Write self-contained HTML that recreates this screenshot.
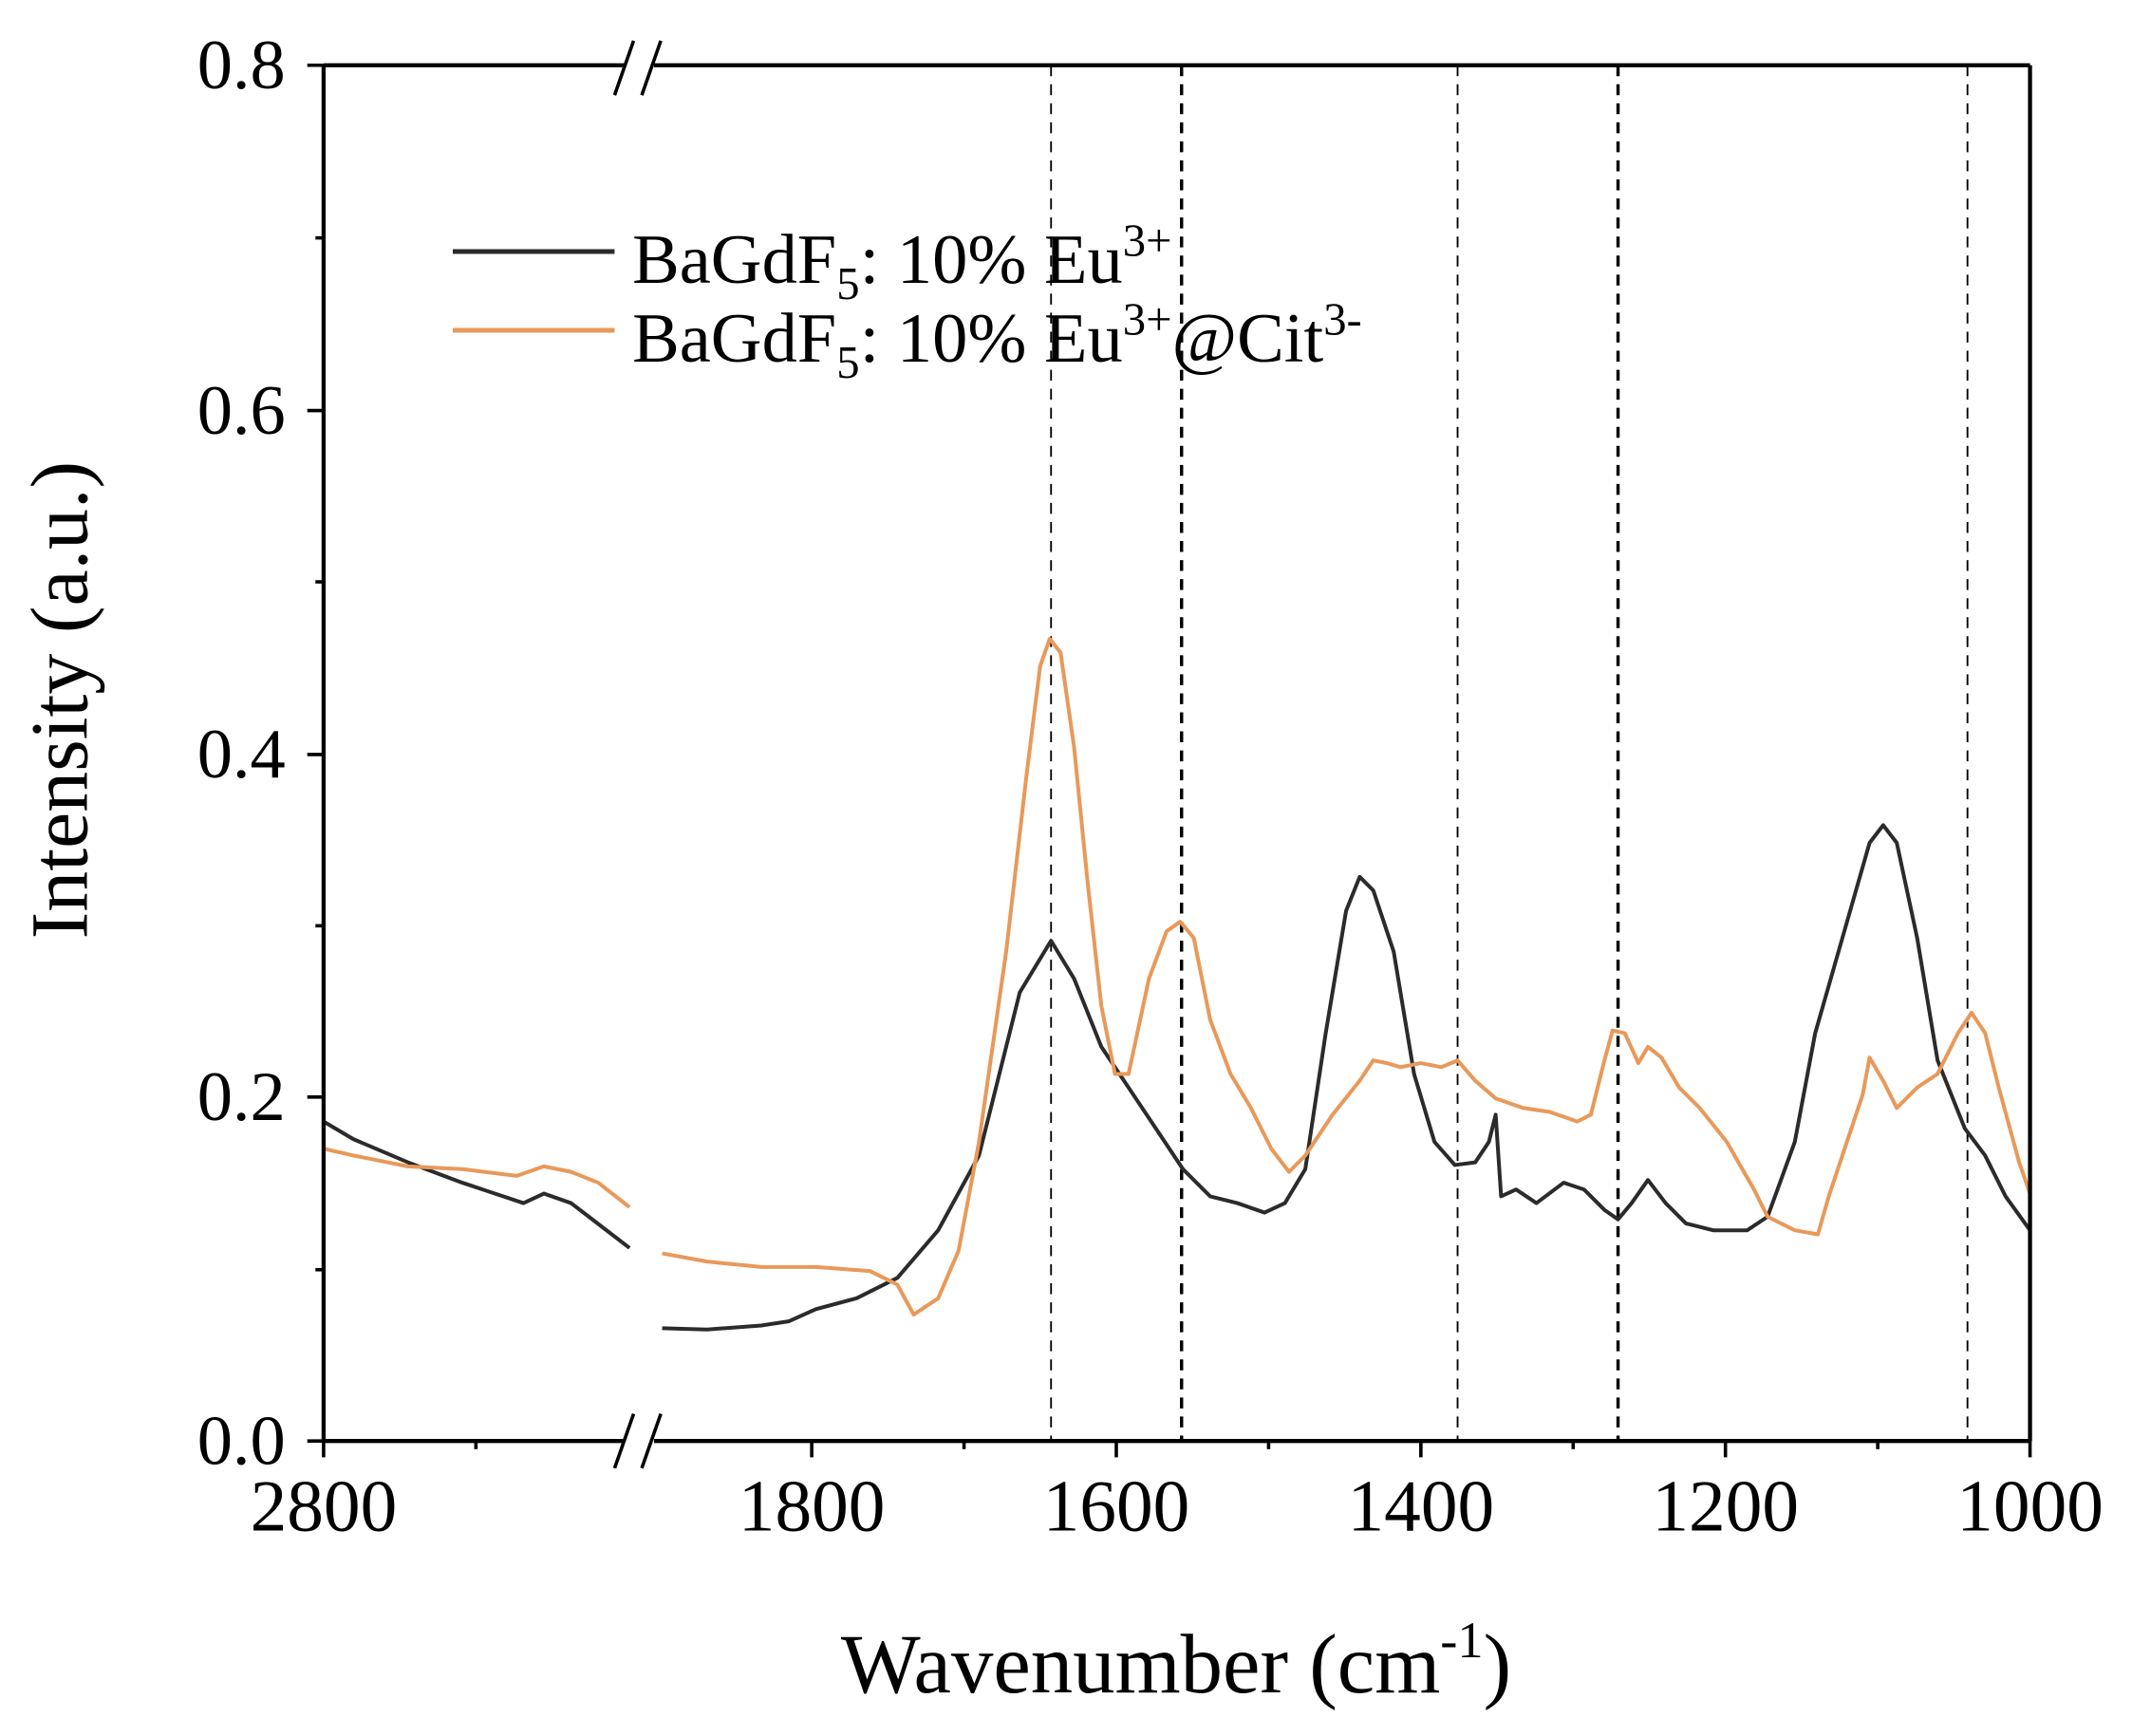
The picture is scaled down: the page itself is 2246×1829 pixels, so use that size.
<!DOCTYPE html>
<html><head><meta charset="utf-8"><style>html,body{margin:0;padding:0;background:#fff;}svg{display:block}</style></head><body>
<svg width="2246" height="1829" viewBox="0 0 1568 1277" preserveAspectRatio="none" xmlns="http://www.w3.org/2000/svg" font-family="Liberation Serif, serif">
<rect width="1568" height="1277" fill="#fff"/>
<g stroke="#000" stroke-dasharray="8,6">
<line x1="773" y1="48" x2="773" y2="1060" stroke-width="1.3"/>
<line x1="869" y1="48" x2="869" y2="1060" stroke-width="2.4"/>
<line x1="1072" y1="48" x2="1072" y2="1060" stroke-width="1.3"/>
<line x1="1190" y1="48" x2="1190" y2="1060" stroke-width="2.4"/>
<line x1="1447" y1="48" x2="1447" y2="1060" stroke-width="1.3"/>
</g>
<g fill="none" stroke-width="2.8" stroke-linejoin="round">
<polyline stroke="#2b2b2b" points="238,825 260,838 300,855 340,870 385,885 400,878 420,885 463,918"/>
<polyline stroke="#2b2b2b" points="487,977 520,978 560,975 580,972 600,963 630,955 660,940 690,905 720,850 750,730 773,692 790,720 810,770 830,800 850,830 870,860 890,880 910,885 930,892 945,885 960,860 975,760 990,670 1000,645 1010,655 1025,700 1040,790 1055,840 1070,857 1085,855 1095,840 1100,820 1104,880 1115,875 1130,885 1150,870 1165,875 1180,890 1190,897 1200,885 1212,868 1225,885 1240,900 1260,905 1285,905 1300,895 1320,840 1335,760 1355,690 1375,620 1385,607 1395,620 1410,690 1425,780 1445,830 1460,850 1475,880 1493,905"/>
<polyline stroke="#e8995a" points="238,845 260,850 300,858 340,860 380,865 400,858 420,862 440,870 463,888"/>
<polyline stroke="#e8995a" points="487,922 520,928 560,932 600,932 640,935 660,945 672,967 690,955 705,920 720,840 740,700 755,570 765,490 772,470 780,480 790,550 800,650 810,740 820,790 830,790 845,720 858,685 868,678 878,690 890,750 905,790 920,815 935,845 948,862 960,850 980,820 1000,795 1010,780 1020,782 1030,785 1045,782 1060,785 1072,780 1085,795 1100,808 1120,815 1140,818 1160,825 1170,820 1180,780 1186,758 1195,760 1205,782 1212,770 1222,778 1235,800 1250,815 1270,840 1290,875 1300,895 1320,905 1337,908 1345,880 1360,835 1370,805 1375,778 1385,795 1395,815 1410,800 1425,790 1440,760 1450,745 1460,760 1470,800 1485,855 1493,878"/>
</g>
<g stroke="#000" stroke-width="3" fill="none">
<line x1="238" y1="48" x2="238" y2="1060"/>
<line x1="1493" y1="48" x2="1493" y2="1060"/>
<line x1="238" y1="1060" x2="1493" y2="1060"/>
<line x1="238" y1="48" x2="1493" y2="48"/>
</g>
<g stroke="#000" stroke-width="2.5">
<line x1="226" y1="1060" x2="238" y2="1060"/><line x1="226" y1="807" x2="238" y2="807"/><line x1="226" y1="555" x2="238" y2="555"/><line x1="226" y1="302" x2="238" y2="302"/><line x1="226" y1="48" x2="238" y2="48"/>
<line x1="232" y1="934" x2="238" y2="934"/><line x1="232" y1="681" x2="238" y2="681"/><line x1="232" y1="428" x2="238" y2="428"/><line x1="232" y1="175" x2="238" y2="175"/>
<line x1="238" y1="1060" x2="238" y2="1072"/><line x1="350" y1="1060" x2="350" y2="1066"/>
<line x1="597" y1="1060" x2="597" y2="1072"/><line x1="709" y1="1060" x2="709" y2="1066"/>
<line x1="821" y1="1060" x2="821" y2="1072"/><line x1="933" y1="1060" x2="933" y2="1066"/>
<line x1="1045" y1="1060" x2="1045" y2="1072"/><line x1="1157" y1="1060" x2="1157" y2="1066"/>
<line x1="1269" y1="1060" x2="1269" y2="1072"/><line x1="1381" y1="1060" x2="1381" y2="1066"/>
<line x1="1493" y1="1060" x2="1493" y2="1072"/>
</g>
<rect x="459" y="38" width="22" height="20" fill="#fff"/>
<rect x="459" y="1050" width="22" height="20" fill="#fff"/>
<g stroke="#000" stroke-width="2.5">
<line x1="452" y1="70" x2="466" y2="30"/><line x1="472" y1="70" x2="486" y2="30"/>
<line x1="452" y1="1080" x2="466" y2="1040"/><line x1="472" y1="1080" x2="486" y2="1040"/>
</g>
<g font-size="52" text-anchor="end" fill="#000">
<text x="210" y="1077">0.0</text><text x="210" y="824">0.2</text><text x="210" y="572">0.4</text><text x="210" y="319">0.6</text><text x="210" y="65">0.8</text>
</g>
<g font-size="54" text-anchor="middle" fill="#000">
<text x="238" y="1126">2800</text><text x="597" y="1126">1800</text><text x="821" y="1126">1600</text><text x="1045" y="1126">1400</text><text x="1269" y="1126">1200</text><text x="1493" y="1126">1000</text>
</g>
<text x="865" y="1245" font-size="62" text-anchor="middle">Wavenumber (cm<tspan font-size="38" dy="-26">-1</tspan><tspan dy="26">)</tspan></text>
<text transform="translate(64,515) rotate(-90)" font-size="60" text-anchor="middle">Intensity (a.u.)</text>
<line x1="333" y1="185" x2="452" y2="185" stroke="#2b2b2b" stroke-width="3.5"/>
<line x1="333" y1="243" x2="452" y2="243" stroke="#e8995a" stroke-width="3.5"/>
<text x="465" y="208" font-size="52">BaGdF<tspan font-size="34" dy="12">5</tspan><tspan dy="-12">: 10% Eu</tspan><tspan font-size="34" dy="-20">3+</tspan></text>
<text x="465" y="266" font-size="52">BaGdF<tspan font-size="34" dy="12">5</tspan><tspan dy="-12">: 10% Eu</tspan><tspan font-size="34" dy="-20">3+</tspan><tspan dy="20">@Cit</tspan><tspan font-size="34" dy="-20">3-</tspan></text>
</svg>
</body></html>
